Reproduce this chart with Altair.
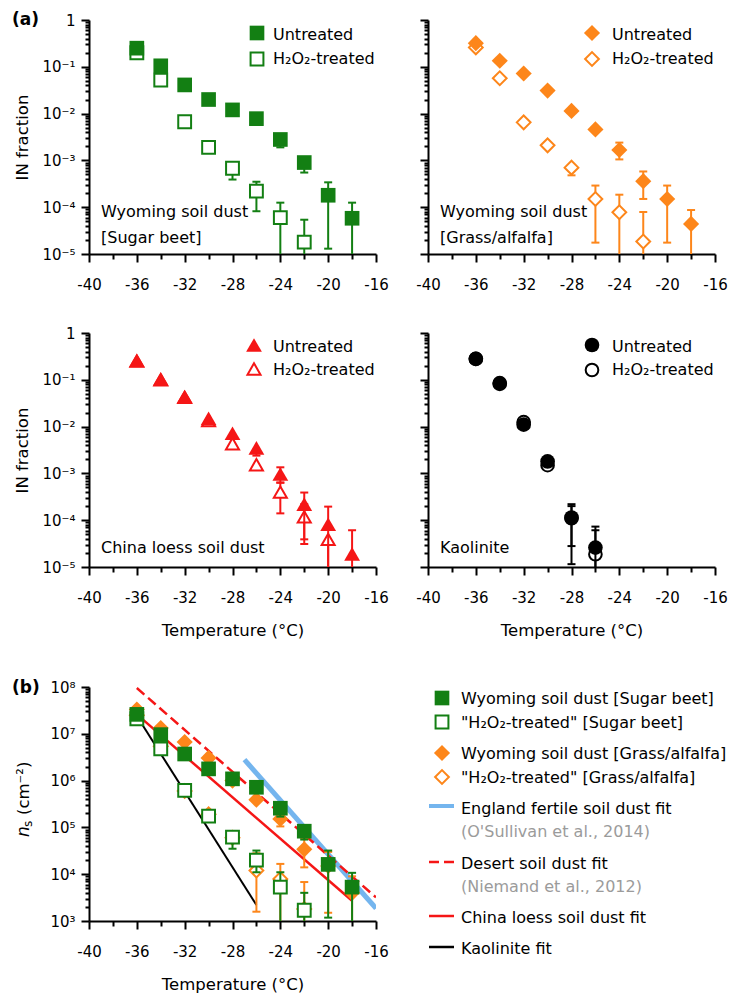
import altair as alt
import pandas as pd

FONT = "DejaVu Sans"
GREEN = "#137f13"
ORANGE = "#fd861a"
RED = "#f51616"
BLACK = "#000000"
BLUE = "#74b5ee"
GRAY = "#9b9b9b"

TEMPS = [-36, -34, -32, -30, -28, -26, -24, -22, -20, -18]

# ---------------- (a) IN fraction ----------------
sugar_unt = [0.25, 0.105, 0.041, 0.020, 0.012, 0.0078, 0.0028, 0.00090, 1.8e-4, 5.8e-5]
sugar_unt_lo = [None, None, None, None, None, None, 0.0019, 0.00055, 1.3e-5, 5e-6]
sugar_unt_hi = [None, None, None, None, None, None, None, None, 3.4e-4, 1.25e-4]
sugar_trt = [0.20, 0.052, 0.0067, 0.0019, 6.8e-4, 2.2e-4, 6.0e-5, 1.8e-5]
sugar_trt_lo = [None, None, None, None, 3.9e-4, 8.2e-5, 5e-6, 5e-6]
sugar_trt_hi = [None, None, None, None, None, 3.5e-4, 1.25e-4, 5.4e-5]

grass_unt = [0.32, 0.135, 0.072, 0.031, 0.0114, 0.0046, 0.00167, 3.6e-4, 1.5e-4, 4.4e-5]
grass_unt_lo = [None, None, None, None, None, None, 0.00105, 1.5e-4, 1.75e-5, 5e-6]
grass_unt_hi = [None, None, None, None, None, None, 0.0024, 5.8e-4, 2.9e-4, 8.7e-5]
grass_trt = [0.26, 0.057, 0.0065, 0.0021, 7.0e-4, 1.5e-4, 7.8e-5, 1.85e-5]
grass_trt_lo = [None, None, None, None, 4.8e-4, 1.75e-5, 5e-6, 5e-6]
grass_trt_hi = [None, None, None, None, None, 2.9e-4, 1.85e-4, 7.9e-5]

china_unt = [0.26, 0.105, 0.044, 0.015, 0.0072, 0.0035, 9.7e-4, 2.2e-4, 8.2e-5, 1.9e-5]
china_unt_lo = [None, None, None, None, None, 0.0024, 6.3e-4, 3.9e-5, 5e-6, 5e-6]
china_unt_hi = [None, None, None, None, None, None, 1.35e-3, 3.9e-4, 1.95e-4, 6.1e-5]
china_trt = [0.25, 0.10, 0.042, 0.0135, 0.0043, 0.00153, 4.0e-4, 1.18e-4, 3.9e-5]
china_trt_lo = [None, None, None, None, None, None, 1.4e-4, 3.1e-5, 5e-6]
china_trt_hi = [None, None, None, None, None, None, 6.4e-4, 2.2e-4, None]

kaol_unt = [0.28, 0.082, 0.011, 0.0018, 1.14e-4, 2.6e-5]
kaol_unt_lo = [None, None, None, None, 1.15e-5, 5e-6]
kaol_unt_hi = [None, None, None, None, 2.2e-4, 7.3e-5]
kaol_trt = [0.28, 0.085, 0.0125, 0.0015, 1.1e-4, 1.87e-5]
kaol_trt_lo = [None, None, None, None, 2.8e-5, 5e-6]
kaol_trt_hi = [None, None, None, None, 2.0e-4, 6.1e-5]

# ---------------- (b) ns ----------------
ns_sugar_unt = [2.6e7, 9.6e6, 3.7e6, 1.78e6, 1.09e6, 7.2e5, 2.57e5, 8.3e4, 1.62e4, 5.3e3]
ns_sugar_unt_lo = [None, None, None, None, None, None, 1.7e5, 5.5e4, 1.18e3, 5e2]
ns_sugar_unt_hi = [None, None, None, None, None, None, None, None, 3.2e4, 1.07e4]
ns_sugar_trt = [2.1e7, 4.75e6, 6.2e5, 1.74e5, 6.2e4, 2.0e4, 5.3e3, 1.7e3]
ns_sugar_trt_lo = [None, None, None, None, 3.5e4, 1.1e4, 5e2, 5e2]
ns_sugar_trt_hi = [None, None, None, None, None, 3.2e4, 1.1e4, 4.0e3]
ns_grass_unt = [3.3e7, 1.33e7, 6.7e6, 3.05e6, 1.0e6, 3.9e5, 1.52e5, 3.4e4, 1.5e4, 4.0e3]
ns_grass_unt_lo = [None, None, None, None, None, None, 1.05e5, 1.4e4, 1.5e3, 5e2]
ns_grass_unt_hi = [None, None, None, None, None, None, None, 5.8e4, 3.0e4, 9.0e3]
ns_grass_trt = [2.5e7, 5.4e6, 6.0e5, 1.9e5, 6.0e4, 1.2e4, 7.9e3, 1.8e3]
ns_grass_trt_lo = [None, None, None, None, None, 1.58e3, 5e2, 5e2]
ns_grass_trt_hi = [None, None, None, None, None, 2.8e4, 1.66e4, 6.8e3]

fit_england_T = [-27, -16]
fit_england_ns = [2.8e6, 1.86e3]
fit_desert_T = [-36, -16]
fit_desert_ns = [9.5e7, 3.2e3]
fit_china_T = [-36, -18]
fit_china_ns = [2.6e7, 2.7e3]
fit_kaol_T = [-36, -26]
fit_kaol_ns = [2.4e7, 2.2e3]

# ---------------- text ----------------
legend_a = ["Untreated", "H\u2082O\u2082-treated"]
notes = {
    "p1": ["Wyoming soil dust", "[Sugar beet]"],
    "p2": ["Wyoming soil dust", "[Grass/alfalfa]"],
    "p3": ["China loess soil dust"],
    "p4": ["Kaolinite"],
}
legend_b = [
    "Wyoming soil dust [Sugar beet]",
    "\"H\u2082O\u2082-treated\" [Sugar beet]",
    "Wyoming soil dust [Grass/alfalfa]",
    "\"H\u2082O\u2082-treated\" [Grass/alfalfa]",
    "England fertile soil dust fit",
    "Desert soil dust fit",
    "China loess soil dust fit",
    "Kaolinite fit",
]
legend_b_refs = ["(O'Sullivan et al., 2014)", "(Niemand et al., 2012)"]
x_ticks = list(range(-40, -15, 2))
ya_major = [1e-5, 1e-4, 1e-3, 1e-2, 1e-1, 1.0]
ya_labels = ["10\u207b\u2075", "10\u207b\u2074", "10\u207b\u00b3", "10\u207b\u00b2", "10\u207b\u00b9", "1"]
yb_major = [1e3, 1e4, 1e5, 1e6, 1e7, 1e8]
yb_labels = ["10\u00b3", "10\u2074", "10\u2075", "10\u2076", "10\u2077", "10\u2078"]

W, H = 287, 234

MAJOR_LOG = "abs(log(datum.value)/LN10 - round(log(datum.value)/LN10)) < 0.001"


def log_values(major):
    vals = list(major)
    for a, b in zip(major[:-1], major[1:]):
        vals += [a * m for m in range(2, 10)]
    return vals


def label_expr(major, labels):
    parts = [f"datum.value == {repr(float(v))} ? '{l}'" for v, l in zip(major, labels)]
    return " : ".join(parts) + " : ''"


def x_axis(title):
    kw = dict(
        values=x_ticks,
        labelExpr="datum.value % 4 == 0 ? '' + datum.value : ''",
        tickSize={"condition": {"test": "datum.value % 4 == 0", "value": 8}, "value": 5},
        labelBaseline="alphabetic",
        labelPadding=27,
        labelFlush=False,
        labelOverlap=False,
    )
    if title:
        kw.update(title=title, titleY=68, titleX=W / 2, titleAlign="center",
                  titleBaseline="alphabetic", titleAngle=0)
    else:
        kw.update(title=None)
    return alt.Axis(**kw)


def y_axis(major, labels, show_labels, title):
    kw = dict(
        values=log_values(major),
        tickSize={"condition": {"test": MAJOR_LOG, "value": 8}, "value": 4},
        labelFlush=False,
        labelOverlap=False,
        labelBaseline="middle",
        labelPadding=6,
    )
    if show_labels:
        kw["labelExpr"] = label_expr(major, labels)
    else:
        kw["labels"] = False
    if title:
        kw.update(title=title, titleX=-62, titleY=H / 2, titleAngle=270,
                  titleAlign="center", titleBaseline="alphabetic")
    else:
        kw.update(title=None)
    return alt.Axis(**kw)


def make_series(vals, lo, hi, color, shape, filled, size):
    n = len(vals)
    df = pd.DataFrame({"T": TEMPS[:n], "v": vals, "lo": lo, "hi": hi})
    return dict(df=df, color=color, shape=shape, filled=filled, size=size)


def series_layers(s, X, Yfield):
    df = s["df"]
    layers = []
    err = df[df["lo"].notna() | df["hi"].notna()].copy()
    if len(err):
        err["elo"] = err["lo"].fillna(err["v"])
        err["ehi"] = err["hi"].fillna(err["v"])
        layers.append(
            alt.Chart(err).mark_rule(color=s["color"], strokeWidth=2, clip=True).encode(
                x=X, y=Yfield("elo"), y2="ehi:Q"
            )
        )
        for col in ["lo", "hi"]:
            d = df[df[col].notna()]
            if len(d):
                layers.append(
                    alt.Chart(d).mark_tick(orient="horizontal", size=8, thickness=2,
                                           color=s["color"], opacity=1, clip=True).encode(
                        x=X, y=Yfield(col)
                    )
                )
    if s["filled"]:
        mk = alt.Chart(df).mark_point(shape=s["shape"], size=s["size"], filled=True,
                                      color=s["color"], opacity=1, strokeWidth=0)
    else:
        mk = alt.Chart(df).mark_point(shape=s["shape"], size=s["size"], filled=True,
                                      fill="white", stroke=s["color"], strokeWidth=2,
                                      opacity=1, fillOpacity=1)
    layers.append(mk.encode(x=X, y=Yfield("v")))
    return layers


def text_layer(txt, x, y, size=16, color="black", align="left", **kw):
    return alt.Chart(pd.DataFrame({"t": [txt]})).mark_text(
        align=align, baseline="alphabetic", font=FONT, fontSize=size, color=color, **kw
    ).encode(x=alt.value(x), y=alt.value(y), text="t:N")


def sym_layer(x, y, shape, size, color, filled):
    df = pd.DataFrame({"a": [0]})
    if filled:
        m = alt.Chart(df).mark_point(shape=shape, size=size, filled=True, color=color,
                                     opacity=1, strokeWidth=0)
    else:
        m = alt.Chart(df).mark_point(shape=shape, size=size, filled=True, fill="white",
                                     stroke=color, strokeWidth=2, opacity=1, fillOpacity=1)
    return m.encode(x=alt.value(x), y=alt.value(y))


def line_sym(x1, x2, y, color, width, dash=None):
    kw = dict(color=color, strokeWidth=width)
    if dash:
        kw["strokeDash"] = dash
    return alt.Chart(pd.DataFrame({"a": [0]})).mark_rule(**kw).encode(
        x=alt.value(x1), x2=alt.value(x2), y=alt.value(y)
    )


xs = alt.Scale(domain=[-40, -16], nice=False, zero=False)
ys_a = alt.Scale(type="log", domain=[1e-5, 1], nice=False)
ys_b = alt.Scale(type="log", domain=[1e3, 1e8], nice=False)


def panel_a(series, left, bottom_title, note_lines, leg_x, leg_rows, leg_shapes, color, tag=None):
    X = alt.X("T:Q", scale=xs, axis=x_axis("Temperature (\u00b0C)" if bottom_title else None))
    yax = y_axis(ya_major, ya_labels, left, "IN fraction" if left else None)

    def Yf(f):
        return alt.Y(f + ":Q", scale=ys_a, axis=yax)

    layers = []
    for s in series:
        layers += series_layers(s, X, Yf)
    base = 197 if len(note_lines) == 2 else 220
    for i, t in enumerate(note_lines):
        layers.append(text_layer(t, 12, base + 26 * i))
    (ys1, yt1), (ys2, yt2) = leg_rows
    shape, fsize, osize = leg_shapes
    layers.append(sym_layer(leg_x, ys1, shape, fsize, color, True))
    layers.append(sym_layer(leg_x, ys2, shape, osize, color, False))
    layers.append(text_layer(legend_a[0], 184, yt1))
    layers.append(text_layer(legend_a[1], 184, yt2))
    if tag:
        layers.append(text_layer(tag, -77, 5, size=17, fontWeight="bold"))
    return alt.layer(*layers).properties(width=W, height=H)


SQ_F, SQ_O = 215, 165
DM_F, DM_O = 260, 190
TR_F, TR_O = 250, 170
CI_F, CI_O = 215, 160

p1 = panel_a(
    [make_series(sugar_trt, sugar_trt_lo, sugar_trt_hi, GREEN, "square", False, SQ_O),
     make_series(sugar_unt, sugar_unt_lo, sugar_unt_hi, GREEN, "square", True, SQ_F)],
    True, False, notes["p1"], 168, [(13, 20), (39, 44)], ("square", SQ_F, SQ_O), GREEN, tag="(a)")
p2 = panel_a(
    [make_series(grass_trt, grass_trt_lo, grass_trt_hi, ORANGE, "diamond", False, DM_O),
     make_series(grass_unt, grass_unt_lo, grass_unt_hi, ORANGE, "diamond", True, DM_F)],
    False, False, notes["p2"], 164, [(13, 20), (39, 44)], ("diamond", DM_F, DM_O), ORANGE)
p3 = panel_a(
    [make_series(china_trt, china_trt_lo, china_trt_hi, RED, "triangle-up", False, TR_O),
     make_series(china_unt, china_unt_lo, china_unt_hi, RED, "triangle-up", True, TR_F)],
    True, True, notes["p3"], 165, [(12, 19), (36, 42)], ("triangle-up", TR_F, TR_O), RED)
p4 = panel_a(
    [make_series(kaol_trt, kaol_trt_lo, kaol_trt_hi, BLACK, "circle", False, CI_O),
     make_series(kaol_unt, kaol_unt_lo, kaol_unt_hi, BLACK, "circle", True, CI_F)],
    False, True, notes["p4"], 164, [(12, 19), (37, 42)], ("circle", CI_F, CI_O), BLACK)

# ---------------- panel (b) ----------------
Xb = alt.X("T:Q", scale=xs, axis=x_axis("Temperature (\u00b0C)"))
yax_b = y_axis(yb_major, yb_labels, True, None)


def Yb(f):
    return alt.Y(f + ":Q", scale=ys_b, axis=yax_b)


def fit_layer(T, ns, color, width, dash=None):
    kw = dict(color=color, strokeWidth=width, clip=True)
    if dash:
        kw["strokeDash"] = dash
    return alt.Chart(pd.DataFrame({"T": T, "v": ns})).mark_line(**kw).encode(x=Xb, y=Yb("v"))


b_layers = [
    fit_layer(fit_england_T, fit_england_ns, BLUE, 5),
    fit_layer(fit_china_T, fit_china_ns, RED, 2.5),
    fit_layer(fit_desert_T, fit_desert_ns, RED, 2.5, [10, 5]),
    fit_layer(fit_kaol_T, fit_kaol_ns, BLACK, 2),
]
for s in [
    make_series(ns_grass_trt, ns_grass_trt_lo, ns_grass_trt_hi, ORANGE, "diamond", False, DM_O),
    make_series(ns_grass_unt, ns_grass_unt_lo, ns_grass_unt_hi, ORANGE, "diamond", True, DM_F),
    make_series(ns_sugar_trt, ns_sugar_trt_lo, ns_sugar_trt_hi, GREEN, "square", False, SQ_O),
    make_series(ns_sugar_unt, ns_sugar_unt_lo, ns_sugar_unt_hi, GREEN, "square", True, SQ_F),
]:
    b_layers += series_layers(s, Xb, Yb)

b_layers += [
    text_layer("(b)", -77, 6, size=17, fontWeight="bold"),
    text_layer("n", -60, 150, size=17, angle=270, fontStyle="italic"),
    text_layer("s", -57, 140, size=12, angle=270),
    text_layer("(cm\u207b\u00b2)", -60, 128, size=16.5, angle=270),
]
pb = alt.layer(*b_layers).properties(width=W, height=H)

# legend panel for (b)
LX_SYM, LX_TXT = 14, 33
lg = [
    sym_layer(LX_SYM, 11, "square", SQ_F, GREEN, True),
    text_layer(legend_b[0], LX_TXT, 17),
    sym_layer(LX_SYM, 35, "square", SQ_O, GREEN, False),
    text_layer(legend_b[1], LX_TXT, 41),
    sym_layer(LX_SYM, 66, "diamond", DM_F, ORANGE, True),
    text_layer(legend_b[2], LX_TXT, 72),
    sym_layer(LX_SYM, 90, "diamond", DM_O, ORANGE, False),
    text_layer(legend_b[3], LX_TXT, 96),
    line_sym(1, 26, 119, BLUE, 4),
    text_layer(legend_b[4], LX_TXT, 127),
    text_layer(legend_b_refs[0], LX_TXT, 150, color=GRAY),
    line_sym(1, 26, 175, RED, 2.5, [10, 5]),
    text_layer(legend_b[5], LX_TXT, 182),
    text_layer(legend_b_refs[1], LX_TXT, 205, color=GRAY),
    line_sym(1, 26, 229, RED, 2.5),
    text_layer(legend_b[6], LX_TXT, 236),
    line_sym(1, 26, 260, BLACK, 2.5),
    text_layer(legend_b[7], LX_TXT, 267),
]
legend_panel = alt.layer(*lg).properties(width=W, height=H)


def spacer(h):
    return alt.Chart(pd.DataFrame({"a": [0]})).mark_point(opacity=0, size=1).encode(
        x=alt.value(0), y=alt.value(0)
    ).properties(width=W, height=h)


chart = alt.concat(
    p1, p2,
    spacer(59), spacer(59),
    p3, p4,
    spacer(100), spacer(100),
    pb, legend_panel,
    columns=2, spacing={"row": 10, "column": 52}, bounds="flush",
).properties(
    padding={"left": 12, "top": 11, "right": 2, "bottom": 2}
).configure_view(stroke=None).configure_axis(
    domainColor="black", domainWidth=2, tickColor="black", tickWidth=2,
    labelFont=FONT, labelFontSize=15, labelColor="black",
    titleFont=FONT, titleFontSize=16.5, titleColor="black", titleFontWeight="normal",
    grid=False,
)

chart.save("out.html", embed_options={"renderer": "svg", "actions": False})
